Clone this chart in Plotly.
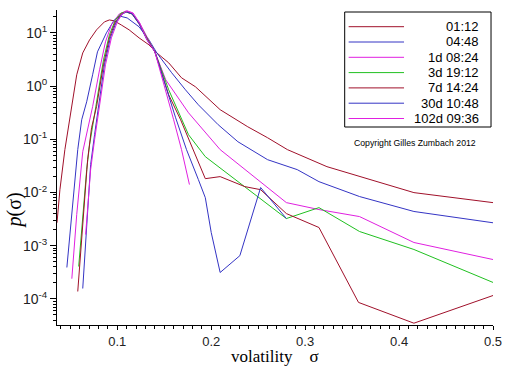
import plotly.graph_objects as go

# ---------------- data ----------------
labels = ["01:12", "04:48", "1d 08:24", "3d 19:12", "7d 14:24", "30d 10:48", "102d 09:36"]
colors = ["#a0102a", "#3434c4", "#e020e0", "#20c020", "#a0102a", "#3434c4", "#e020e0"]

sigma_0112 = [0.0358, 0.0389, 0.0442, 0.0516, 0.0568, 0.0632, 0.0705, 0.0779, 0.0863, 0.0916,
              0.0968, 0.1042, 0.1126, 0.1232, 0.1337, 0.1421, 0.1547, 0.1684, 0.1832, 0.2095,
              0.2389, 0.2600, 0.2811, 0.3232, 0.3579, 0.4158, 0.5000]
p_0112 = [2.7e-3, 1.13e-2, 6.4e-2, 0.47, 1.63, 4.2, 7.4, 11.4, 16.1, 17.5,
          16.8, 14.1, 11.4, 8.05, 5.96, 4.2, 2.74, 1.43, 0.97, 0.36,
          0.172, 0.107, 0.064, 0.0306, 0.0199, 0.00995, 0.00645]

sigma_0448 = [0.0463, 0.0579, 0.0621, 0.0674, 0.0737, 0.0789, 0.0884, 0.0968, 0.1021, 0.1105,
              0.1232, 0.1337, 0.1421, 0.1579, 0.1726, 0.1863, 0.2074, 0.2284, 0.2600, 0.2916,
              0.3147, 0.3579, 0.4158, 0.5000]
p_0448 = [3.9e-4, 0.064, 0.233, 0.507, 1.63, 4.4, 10.0, 17.5, 20.8, 19.1,
          13.0, 7.4, 4.2, 1.78, 0.85, 0.445, 0.188, 0.090, 0.0414, 0.0269,
          0.016, 0.0084, 0.0044, 0.0027]

sigma_1d = [0.0516, 0.0568, 0.0632, 0.0737, 0.0811, 0.0874, 0.0937, 0.1021, 0.1095, 0.1158,
            0.1232, 0.1316, 0.1400, 0.1516, 0.1758, 0.2095, 0.2526, 0.2800, 0.3147, 0.3579,
            0.4158, 0.5000]
p_1d = [2.4e-4, 3.85e-3, 0.0585, 0.41, 2.02, 6.8, 14.1, 22.7, 25.9, 23.7,
        16.1, 8.4, 4.4, 1.31, 0.315, 0.064, 0.016, 0.00646, 0.00478, 0.00353,
        0.00115, 5.5e-4]

sigma_3d = [0.0589, 0.0632, 0.0674, 0.0705, 0.0768, 0.0853, 0.0916, 0.0979, 0.1042, 0.1095,
            0.1158, 0.1232, 0.1316, 0.1400, 0.1547, 0.1758, 0.1937, 0.2358, 0.2800, 0.3147,
            0.3579, 0.4158, 0.5000]
p_3d = [4.07e-4, 3.85e-3, 0.0269, 0.079, 0.41, 3.11, 9.2, 17.5, 23.7, 24.8,
        22.7, 15.4, 8.05, 4.4, 0.853, 0.122, 0.0472, 0.0129, 0.00324, 0.0052,
        0.00185, 8.5e-4, 2.04e-4]

sigma_7d = [0.0579, 0.0684, 0.0726, 0.0779, 0.0853, 0.0916, 0.0979, 0.1042, 0.1095, 0.1158,
            0.1232, 0.1316, 0.1400, 0.1547, 0.1674, 0.1937, 0.2095, 0.2358, 0.2526, 0.2800,
            0.3147, 0.3568, 0.4158, 0.5000]
p_7d = [1.38e-4, 0.0414, 0.165, 0.41, 2.51, 8.05, 16.1, 22.7, 24.8, 22.7,
        14.8, 7.7, 4.4, 0.687, 0.233, 0.0182, 0.0199, 0.0129, 0.0113, 0.00402,
        0.0022, 8.6e-5, 3.5e-5, 1.16e-4]

sigma_30d = [0.0632, 0.0674, 0.0716, 0.0758, 0.0800, 0.0863, 0.0926, 0.0989, 0.1042, 0.1095,
             0.1158, 0.1232, 0.1316, 0.1400, 0.1621, 0.1737, 0.1863, 0.1937, 0.2000, 0.2095,
             0.2305, 0.2526, 0.2800]
p_30d = [1.57e-4, 2.01e-3, 0.0334, 0.122, 0.41, 2.51, 8.05, 16.1, 21.8, 24.8,
         22.7, 14.8, 7.4, 4.4, 0.254, 0.0638, 0.0175, 0.008, 1.77e-3, 3.14e-4,
         6.5e-4, 0.0124, 0.00324]

sigma_102d = [0.0663, 0.0716, 0.0758, 0.0811, 0.0874, 0.0937, 0.1000, 0.1053, 0.1105, 0.1168,
              0.1242, 0.1316, 0.1400, 0.1600, 0.1684, 0.1768]
p_102d = [1.62e-3, 0.0269, 0.098, 0.41, 2.51, 8.05, 16.1, 22.7, 25.9, 23.7,
          14.8, 7.4, 4.4, 0.233, 0.0638, 0.0141]

x_tick_vals = [0.1, 0.2, 0.3, 0.4, 0.5]
x_tick_text = ["0.1", "0.2", "0.3", "0.4", "0.5"]
y_tick_vals = [1e-4, 1e-3, 1e-2, 1e-1, 1e0, 1e1]
y_tick_text = ["10<sup>-4</sup>", "10<sup>-3</sup>", "10<sup>-2</sup>",
               "10<sup>-1</sup>", "10<sup>0</sup>", "10<sup>1</sup>"]

x_title = "volatility    σ"
y_title = "<i>p</i>(σ)"
copyright_text = "Copyright Gilles Zumbach 2012"

# ---------------- figure ----------------
series = [(sigma_0112, p_0112), (sigma_0448, p_0448), (sigma_1d, p_1d), (sigma_3d, p_3d),
          (sigma_7d, p_7d), (sigma_30d, p_30d), (sigma_102d, p_102d)]

W, H = 512, 366
ML, MR, MT, MB = 57, 14, 10, 41
PW, PH = W - ML - MR, H - MT - MB


def px(xp):
    return (xp - ML) / PW


def py(yp):
    return (H - MB - yp) / PH


fig = go.Figure()
for (sx, sy), name, col in zip(series, labels, colors):
    fig.add_trace(go.Scatter(x=sx, y=sy, mode="lines", name=name,
                             line=dict(color=col, width=1), showlegend=False))

# minor tick positions on log axis (2..9 per decade)
minor_y = []
for e in range(-5, 2):
    for m in range(2, 10):
        minor_y.append(m * 10 ** e)

fig.update_xaxes(range=[0.0358, 0.5], showline=True, linecolor="black", linewidth=1,
                 showgrid=False, zeroline=False, ticks="outside", ticklen=4,
                 tickcolor="black", tickmode="array", tickvals=x_tick_vals,
                 ticktext=x_tick_text,
                 tickfont=dict(family="Liberation Sans", size=13, color="#222"),
                 minor=dict(ticks="outside", ticklen=3, dtick=0.01, tick0=0,
                            tickcolor="black", showgrid=False))
fig.update_yaxes(type="log", range=[-4.49, 1.43], showline=True, linecolor="black",
                 linewidth=1, showgrid=False, zeroline=False, ticks="outside",
                 ticklen=6, tickcolor="black", tickmode="array", tickvals=y_tick_vals,
                 ticktext=y_tick_text,
                 tickfont=dict(family="Liberation Sans", size=14, color="#222"),
                 minor=dict(ticks="outside", ticklen=3, tickmode="array",
                            tickvals=minor_y, tickcolor="black", showgrid=False))

shapes = []
annotations = []
# legend box
shapes.append(dict(type="rect", xref="paper", yref="paper",
                   x0=px(348), x1=px(496), y0=py(127), y1=py(12),
                   line=dict(color="black", width=1), fillcolor="white"))
for i, (name, col) in enumerate(zip(labels, colors)):
    yr = 26.7 + i * 15.3
    shapes.append(dict(type="line", xref="paper", yref="paper",
                       x0=px(352), x1=px(408), y0=py(yr), y1=py(yr),
                       line=dict(color=col, width=1)))
    annotations.append(dict(xref="paper", yref="paper", x=px(486), y=py(yr),
                            xanchor="right", yanchor="middle", showarrow=False,
                            text=name,
                            font=dict(family="Liberation Sans", size=13, color="black")))

annotations.append(dict(xref="paper", yref="paper", x=px(419), y=py(143),
                        xanchor="center", yanchor="middle", showarrow=False,
                        text=copyright_text,
                        font=dict(family="Liberation Sans", size=8.7, color="black")))
annotations.append(dict(xref="paper", yref="paper", x=0.5, y=py(367.5),
                        xanchor="center", yanchor="bottom", showarrow=False,
                        text=x_title,
                        font=dict(family="Liberation Serif", size=17, color="black")))
annotations.append(dict(xref="paper", yref="paper", x=px(14), y=py(210),
                        xanchor="center", yanchor="middle", showarrow=False,
                        textangle=-90, text=y_title,
                        font=dict(family="Liberation Serif", size=20, color="black")))

fig.update_layout(width=W, height=H, margin=dict(l=ML, r=MR, t=MT, b=MB),
                  paper_bgcolor="white", plot_bgcolor="white",
                  shapes=shapes, annotations=annotations, showlegend=False)

fig.write_html("out.html", config={"displayModeBar": False},
               post_script="document.body.style.margin='0px';document.body.style.overflow='hidden';")
